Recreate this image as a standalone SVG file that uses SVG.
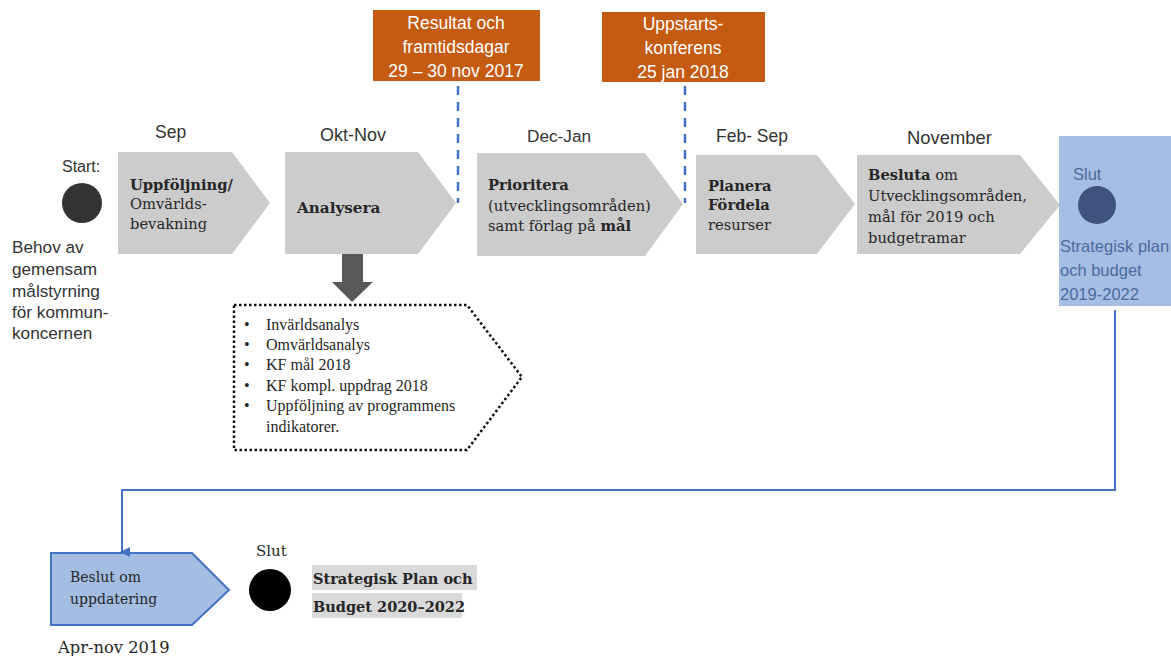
<svg xmlns="http://www.w3.org/2000/svg" width="1171" height="656" viewBox="0 0 1171 656">
<defs>
<style>
.chev{fill:#cccccc;}
.ser{font-family:"DejaVu Serif","Liberation Serif",serif;fill:#262626;}
.lser{font-family:"Liberation Serif","DejaVu Serif",serif;fill:#262626;}
.b{font-weight:bold;}
.san{font-family:"Liberation Sans","Open Sans",sans-serif;fill:#333333;}
.org{fill:#c55a11;}
.wt{font-family:"Liberation Sans","Open Sans",sans-serif;fill:#ffffff;text-anchor:middle;}
.dash{stroke:#4472c4;stroke-width:2.5;stroke-dasharray:9,7;fill:none;}
.conn{stroke:#4472c4;stroke-width:2;fill:none;}
.bl{font-family:"Liberation Sans","Open Sans",sans-serif;fill:#4a6aa0;}
</style>
<marker id="ah" markerWidth="10" markerHeight="10" refX="5" refY="8" orient="auto" markerUnits="userSpaceOnUse" viewBox="0 0 10 10">
<path d="M0,0 L10,0 L5,10 Z" fill="#4472c4"/>
</marker>
</defs>
<rect width="1171" height="656" fill="#ffffff"/>

<g id="start">
<text class="san" x="62" y="172" font-size="16">Start:</text>
<circle cx="82" cy="203" r="20" fill="#333333"/>
<g class="san" font-size="17.2">
<text x="12" y="253">Behov av</text>
<text x="12" y="275">gemensam</text>
<text x="12" y="297">målstyrning</text>
<text x="12" y="318">för kommun-</text>
<text x="12" y="339">koncernen</text>
</g>
</g>

<g id="step-sep">
<text class="san" x="155" y="138" font-size="17.5">Sep</text>
<polygon class="chev" points="118,152 232,152 270,203 232,254 118,254"/>
<g class="ser" font-size="14.7">
<text class="b" x="130" y="190">Uppföljning/</text>
<text x="130" y="209">Omvärlds-</text>
<text x="130" y="229">bevakning</text>
</g>
</g>

<g id="step-oktnov">
<text class="san" x="320" y="141" font-size="18">Okt-Nov</text>
<polygon class="chev" points="285,152 418,152 456,203 418,254 285,254"/>
<text class="ser b" x="297" y="213" font-size="15.2">Analysera</text>
</g>

<g id="analys-arrow">
<rect x="342" y="254" width="21" height="29" fill="#595959"/>
<polygon points="332,282 373,282 352,302" fill="#595959"/>
</g>

<g id="analys-list">
<polygon points="234,305 467,305 522,377 467,450 234,450" fill="#ffffff" stroke="#111111" stroke-width="2.5" stroke-dasharray="2.5,2.5"/>
<g class="lser" font-size="16">
<text x="244" y="330">•</text><text x="266" y="330">Invärldsanalys</text>
<text x="244" y="350">•</text><text x="266" y="350">Omvärldsanalys</text>
<text x="244" y="370">•</text><text x="266" y="370">KF mål 2018</text>
<text x="244" y="391">•</text><text x="266" y="391">KF kompl. uppdrag 2018</text>
<text x="244" y="411">•</text><text x="266" y="411">Uppföljning av programmens</text>
<text x="266" y="432">indikatorer.</text>
</g>
</g>

<g id="event-resultat">
<rect class="org" x="373" y="10" width="167" height="71"/>
<g class="wt" font-size="17.5">
<text x="456" y="29">Resultat och</text>
<text x="456" y="53">framtidsdagar</text>
<text x="456" y="77">29 – 30 nov 2017</text>
</g>
</g>

<g id="event-uppstart">
<rect class="org" x="602" y="12" width="163" height="70"/>
<g class="wt" font-size="17.5">
<text x="683" y="30">Uppstarts-</text>
<text x="683" y="54">konferens</text>
<text x="683" y="78">25 jan 2018</text>
</g>
</g>

<g id="step-decjan">
<text class="san" x="527" y="142" font-size="17.2">Dec-Jan</text>
<polygon class="chev" points="477,153 645,153 683,204 645,256 477,256"/>
<g class="ser" font-size="14.7">
<text class="b" x="488" y="190">Prioritera</text>
<text x="488" y="211">(utvecklingsområden)</text>
<text x="488" y="231">samt förlag på <tspan class="b">mål</tspan></text>
</g>
</g>

<g id="step-febsep">
<text class="san" x="716" y="142" font-size="17.5">Feb-  Sep</text>
<polygon class="chev" points="696,155 817,155 855,204 817,254 696,254"/>
<g class="ser" font-size="14.7">
<text class="b" x="708" y="191">Planera</text>
<text class="b" x="708" y="210">Fördela</text>
<text x="708" y="230">resurser</text>
</g>
</g>

<g id="step-november">
<text class="san" x="907" y="144" font-size="18.4">November</text>
<polygon class="chev" points="857,155 1020,155 1060,205 1020,254 857,254"/>
<g class="ser" font-size="14.7">
<text x="868" y="180"><tspan class="b">Besluta</tspan> om</text>
<text x="868" y="201">Utvecklingsområden,</text>
<text x="868" y="222">mål för 2019 och</text>
<text x="868" y="243">budgetramar</text>
</g>
</g>

<g id="slut-1">
<rect x="1059" y="136" width="112" height="170" fill="#a6bee3"/>
<text class="bl" x="1073" y="180" font-size="16.5" style="fill:#4f6a99">Slut</text>
<circle cx="1097" cy="205" r="19" fill="#3f537f"/>
<g class="bl" font-size="16.5">
<text x="1060" y="252">Strategisk plan</text>
<text x="1060" y="276">och budget</text>
<text x="1060" y="300">2019-2022</text>
</g>
</g>

<g id="beslut-uppdatering">
<polygon points="51,553 192,553 229,590 192,625 51,625" fill="#a4bde2" stroke="#4472c4" stroke-width="2"/>
<g class="ser" font-size="14">
<text x="70" y="582">Beslut om</text>
<text x="70" y="604">uppdatering</text>
</g>
<text class="ser" x="58" y="653" font-size="16.3">Apr-nov 2019</text>
</g>

<g id="slut-2">
<text class="ser" x="256" y="556" font-size="15">Slut</text>
<circle cx="270" cy="590" r="21" fill="#000000"/>
<rect x="312" y="565" width="165" height="25" fill="#d9d9d9"/>
<rect x="312" y="593" width="150" height="25" fill="#d9d9d9"/>
<g class="ser b" font-size="14.5">
<text x="313" y="584">Strategisk Plan och</text>
<text x="313" y="612">Budget 2020–2022</text>
</g>
</g>

<g id="connectors">
<line class="dash" x1="458" y1="86" x2="458" y2="203"/>
<line class="dash" x1="685" y1="86" x2="685" y2="203"/>
<polyline class="conn" points="1115,310 1115,490 122,490 122,552" marker-end="url(#ah)"/>
</g>
</svg>
